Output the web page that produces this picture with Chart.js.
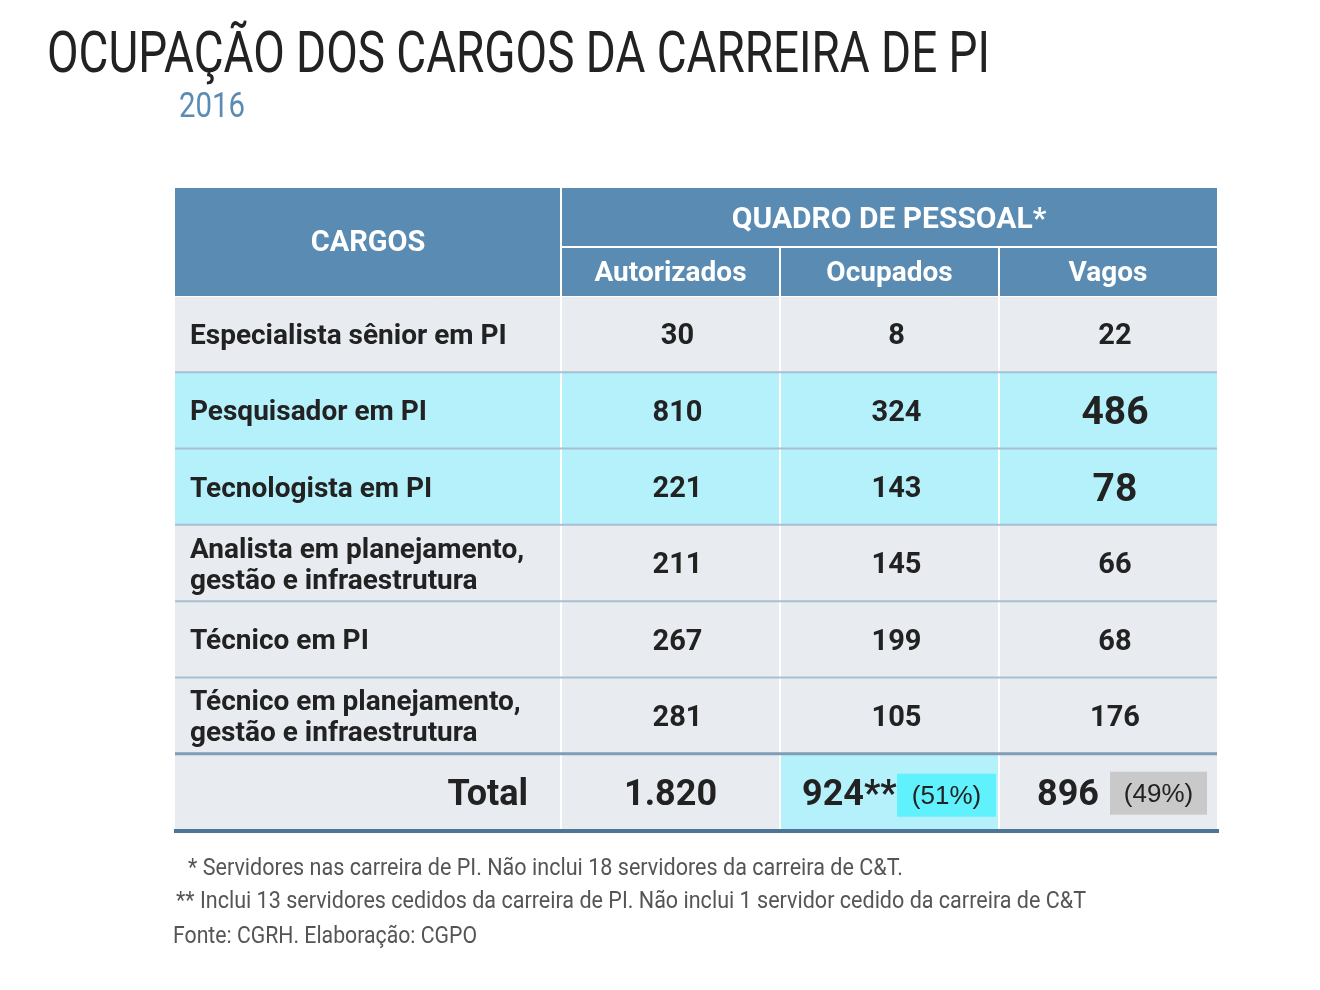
<!DOCTYPE html>
<html>
<head>
<meta charset="utf-8">
<script src="https://cdn.jsdelivr.net/npm/chart.js@4/dist/chart.umd.min.js"></script>
<style>
    body { margin: 0; background: #fff; width: 1320px; height: 990px; position: relative; overflow: hidden; }
    #tabela { position: absolute; left: 0; top: 0; }
    .txt { position: absolute; white-space: nowrap; font-family: Roboto, sans-serif; line-height: 1; transform-origin: 0 0; display: inline-block; }
    #titulo { left: 47px; top: 23px; font-size: 58px; color: #222; }
    #ano { left: 179px; top: 88px; font-size: 35px; color: #5a8bb5; }
    .nota { font-size: 24px; color: #555; }
</style>
</head>
<body>
<canvas id="tabela" width="1320" height="990"></canvas>
<div class="txt" id="titulo" data-w="943">OCUPAÇÃO DOS CARGOS DA CARREIRA DE PI</div>
<div class="txt" id="ano" data-w="66">2016</div>
<div class="txt nota" style="left:188px;top:855px" data-w="715">* Servidores nas carreira de PI. Não inclui 18 servidores da carreira de C&amp;T.</div>
<div class="txt nota" style="left:176px;top:888px" data-w="910">** Inclui 13 servidores cedidos da carreira de PI. Não inclui 1 servidor cedido da carreira de C&amp;T</div>
<div class="txt nota" style="left:173px;top:923px" data-w="304">Fonte: CGRH. Elaboração: CGPO</div>
<script>
    // dados da tabela
    const cargos = [
        'Especialista sênior em PI',
        'Pesquisador em PI',
        'Tecnologista em PI',
        'Analista em planejamento,\ngestão e infraestrutura',
        'Técnico em PI',
        'Técnico em planejamento,\ngestão e infraestrutura',
        'Total'
    ];
    const colunas = ['Autorizados', 'Ocupados', 'Vagos'];
    const autorizados = [30, 810, 221, 211, 267, 281];
    const ocupados = [8, 324, 143, 145, 199, 105];
    const vagos = [22, 486, 78, 66, 68, 176];
    const totais = [1820, 924, 896];
    const percentuais = [51, 49];

    // layout (largura das colunas em px) e estilos
    const colEdges = [0, 386, 605, 824, 1042];
    const linhasDestaque = [1, 2];
    const azul = '#5a8bb3';
    const cinza = '#e8ecf0';
    const ciano = '#b4f1fb';

    // condensed title / footnotes
    document.querySelectorAll('.txt').forEach(el => {
        const w = el.getBoundingClientRect().width;
        el.style.transform = `scaleX(${el.dataset.w / w})`;
    });

    function fmt(n) {
        return String(n).replace(/\B(?=(\d{3})+(?!\d))/g, '.');
    }

    function cellColor(row, col) {
        if (linhasDestaque.includes(row)) return ciano;
        if (row === cargos.length - 1 && col === 2) return ciano;
        return cinza;
    }

    const datasets = colEdges.slice(0, -1).map((e, c) => ({
        label: c === 0 ? 'CARGOS' : colunas[c - 1],
        data: cargos.map(() => [colEdges[c], colEdges[c + 1]]),
        backgroundColor: cargos.map((_, r) => cellColor(r, c)),
        grouped: false,
        barPercentage: 1,
        categoryPercentage: 1,
        borderWidth: 0
    }));

    function text(ctx, s, x, y, font, align, color) {
        ctx.font = font;
        ctx.textAlign = align;
        ctx.textBaseline = 'alphabetic';
        ctx.fillStyle = color;
        ctx.fillText(s, x, y);
    }

    const tablePlugin = {
        id: 'tablePlugin',
        afterDatasetsDraw(chart) {
            const {ctx, chartArea: a, scales: {x, y}} = chart;
            const n = cargos.length;
            const rowH = (a.bottom - a.top) / n;
            const px = v => x.getPixelForValue(v);
            const F = (w, s) => `${w} ${s}px Roboto, sans-serif`;
            ctx.save();

            // header
            const hTop = a.top - 108, hMid = a.top - 49;
            ctx.fillStyle = azul;
            ctx.fillRect(a.left, hTop, a.right - a.left, 108);

            // white lines
            ctx.strokeStyle = '#fff';
            ctx.lineWidth = 2;
            ctx.beginPath();
            ctx.moveTo(px(colEdges[1]), hTop); ctx.lineTo(px(colEdges[1]), a.bottom);
            ctx.moveTo(px(colEdges[2]), hMid); ctx.lineTo(px(colEdges[2]), a.bottom);
            ctx.moveTo(px(colEdges[3]), hMid); ctx.lineTo(px(colEdges[3]), a.bottom);
            ctx.moveTo(px(colEdges[1]), hMid); ctx.lineTo(a.right, hMid);
            ctx.stroke();
            ctx.lineWidth = 1;
            ctx.beginPath();
            ctx.moveTo(a.left, a.top + 0.5); ctx.lineTo(a.right, a.top + 0.5);
            ctx.stroke();

            // row separators
            for (let i = 1; i < n; i++) {
                const yy = a.top + i * rowH;
                ctx.strokeStyle = i === n - 1 ? '#7f9db6' : '#a7bfd2';
                ctx.lineWidth = i === n - 1 ? 3 : 2;
                ctx.beginPath();
                ctx.moveTo(a.left, yy); ctx.lineTo(a.right, yy);
                ctx.stroke();
            }
            ctx.strokeStyle = '#4e7496';
            ctx.lineWidth = 4;
            ctx.beginPath();
            ctx.moveTo(a.left - 1, a.bottom + 1); ctx.lineTo(a.right + 2, a.bottom + 1);
            ctx.stroke();

            // header text
            const branco = '#fff';
            text(ctx, 'CARGOS', (px(colEdges[0]) + px(colEdges[1])) / 2, hTop + 53 + 10, F(700, 29), 'center', branco);
            text(ctx, 'QUADRO DE PESSOAL*', (px(colEdges[1]) + a.right) / 2, hTop + 29 + 11, F(700, 30), 'center', branco);
            colunas.forEach((c, i) => {
                text(ctx, c, (px(colEdges[i + 1]) + px(colEdges[i + 2])) / 2, hMid + 24 + 10, F(700, 28), 'center', branco);
            });

            // body
            const escuro = '#222';
            const valores = [autorizados, ocupados, vagos];
            for (let r = 0; r < n - 1; r++) {
                const cy = y.getPixelForValue(r);
                const lines = cargos[r].split('\n');
                lines.forEach((ln, k) => {
                    const ly = cy + (k - (lines.length - 1) / 2) * 31 + 10;
                    text(ctx, ln, a.left + 15, ly, F(700, 28), 'left', escuro);
                });
                valores.forEach((serie, c) => {
                    const big = c === 2 && linhasDestaque.includes(r);
                    const sz = big ? 39 : 29;
                    const cx = (px(colEdges[c + 1]) + px(colEdges[c + 2])) / 2 + 7;
                    text(ctx, fmt(serie[r]), cx, cy + sz * 0.355, F(700, sz), 'center', escuro);
                });
            }

            // total row
            const tr = n - 1;
            const ty = y.getPixelForValue(tr);
            const tTop = ty - rowH / 2;
            const bl = ty + 36 * 0.355;
            text(ctx, cargos[tr], px(colEdges[1]) - 33, bl, F(700, 36), 'right', escuro);
            text(ctx, fmt(totais[0]), (px(colEdges[1]) + px(colEdges[2])) / 2, bl, F(700, 36), 'center', escuro);
            text(ctx, fmt(totais[1]) + '**', px(colEdges[2]) + 22, bl, F(700, 36), 'left', escuro);
            text(ctx, fmt(totais[2]), px(colEdges[3]) + 38, bl, F(700, 36), 'left', escuro);

            // percentage boxes
            const b1 = {x0: px(colEdges[2]) + 117, x1: px(colEdges[3]) - 3, y0: tTop + 20, h: 43, c: '#5ff2fd'};
            const b2 = {x0: px(colEdges[3]) + 111, x1: a.right - 10, y0: tTop + 18, h: 43, c: '#c9c9c9'};
            [b1, b2].forEach((b, i) => {
                ctx.fillStyle = b.c;
                ctx.fillRect(b.x0, b.y0, b.x1 - b.x0, b.h);
                text(ctx, `(${percentuais[i]}%)`, (b.x0 + b.x1) / 2, b.y0 + b.h / 2 + 9,
                    '26px "Liberation Sans", Arial, sans-serif', 'center', escuro);
            });
            ctx.restore();
        }
    };

    new Chart(document.getElementById('tabela'), {
        type: 'bar',
        data: {
            labels: cargos,
            datasets: datasets
        },
        options: {
            indexAxis: 'y',
            responsive: false,
            animation: false,
            events: [],
            layout: {
                padding: {left: 175, right: 103, top: 296, bottom: 160}
            },
            scales: {
                x: {type: 'linear', min: colEdges[0], max: colEdges[colEdges.length - 1], display: false},
                y: {type: 'category', display: false, offset: true}
            },
            plugins: {
                legend: {display: false},
                tooltip: {enabled: false},
                title: {display: false}
            }
        },
        plugins: [tablePlugin]
    });
</script>
</body>
</html>
